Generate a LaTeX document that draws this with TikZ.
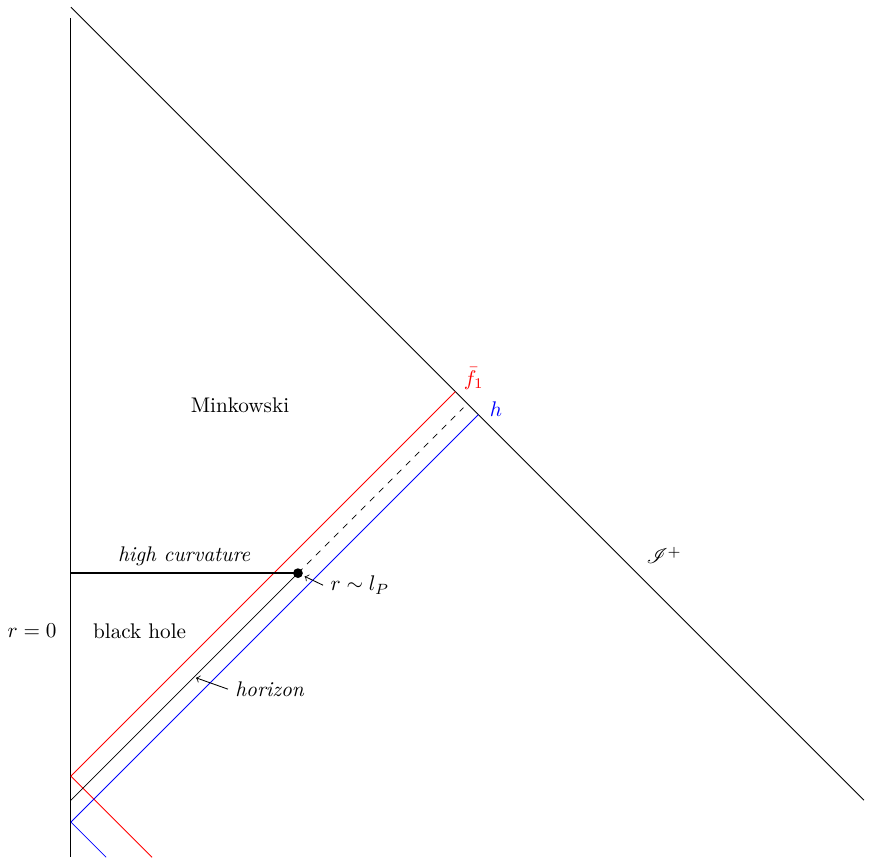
\documentclass[tikz,border=0pt]{standalone}
\usepackage{mathrsfs}
\usetikzlibrary{arrows}

\begin{document}
\begin{tikzpicture}[scale=0.74]

\tikzset{pointer/.style = {->,> = to, thin, shorten >=1pt}}
\useasboundingbox (-1.59,-6.50) rectangle (17.96,12.85);
%points
\coordinate (o0) at (0,12.44);
\coordinate (o1) at (0,-6.37);
\coordinate (s0) at (0,12.69);
\coordinate (s1) at (17.78,-5.09);
\coordinate (f0) at (0,-4.55);
\coordinate (f1) at (8.62,4.07);
\coordinate (f2) at (1.82,-6.37);
\coordinate (k0) at (0,-5.09);
\coordinate (k1) at (8.80,3.71);
\coordinate (h0) at (0,-5.58);
\coordinate (h1) at (9.135,3.555);
\coordinate (h2) at (0.79,-6.37);
\coordinate (c0) at (0,0);
\node[circle, fill, inner sep=0pt, minimum size=4.6pt] (p) at (5.09,0) {};
\coordinate (hz) at (2.76,-2.33);
%lines
\draw (o0) -- (o1);
\draw (s0) -- (s1);
\draw[red] (f1) -- (f0) -- (f2);
\draw[blue] (h1) -- (h0) -- (h2);
\draw (k0) -- (p.center);
\draw[dashed] (p.center) -- (k1);
\draw[thick] (c0) -- (p.center);
%labels
\node (hc) at (2.54,0.38) {\textit{high curvature}};
\node (mink) at (3.79,3.77) {Minkowski};
\node (bh) at (1.54,-1.30) {black hole};
\node (r0) at (-0.87,-1.30) {$r=0$};
\node (scri) at (13.30,0.40) {$\mathscr{I}^+$};
\node[red] (fl) at (9.03,4.36) {$\bar f_1$};
\node[blue] (hl) at (9.53,3.68) {$h$};
\node (rl) at (6.48,-0.27) {$r\sim l_P$};
\node (hzl) at (4.46,-2.60) {\textit{horizon}};
\draw[pointer] (rl.west) -- (p);
\draw[pointer] (hzl.west) -- (hz);

\end{tikzpicture}
\end{document}
